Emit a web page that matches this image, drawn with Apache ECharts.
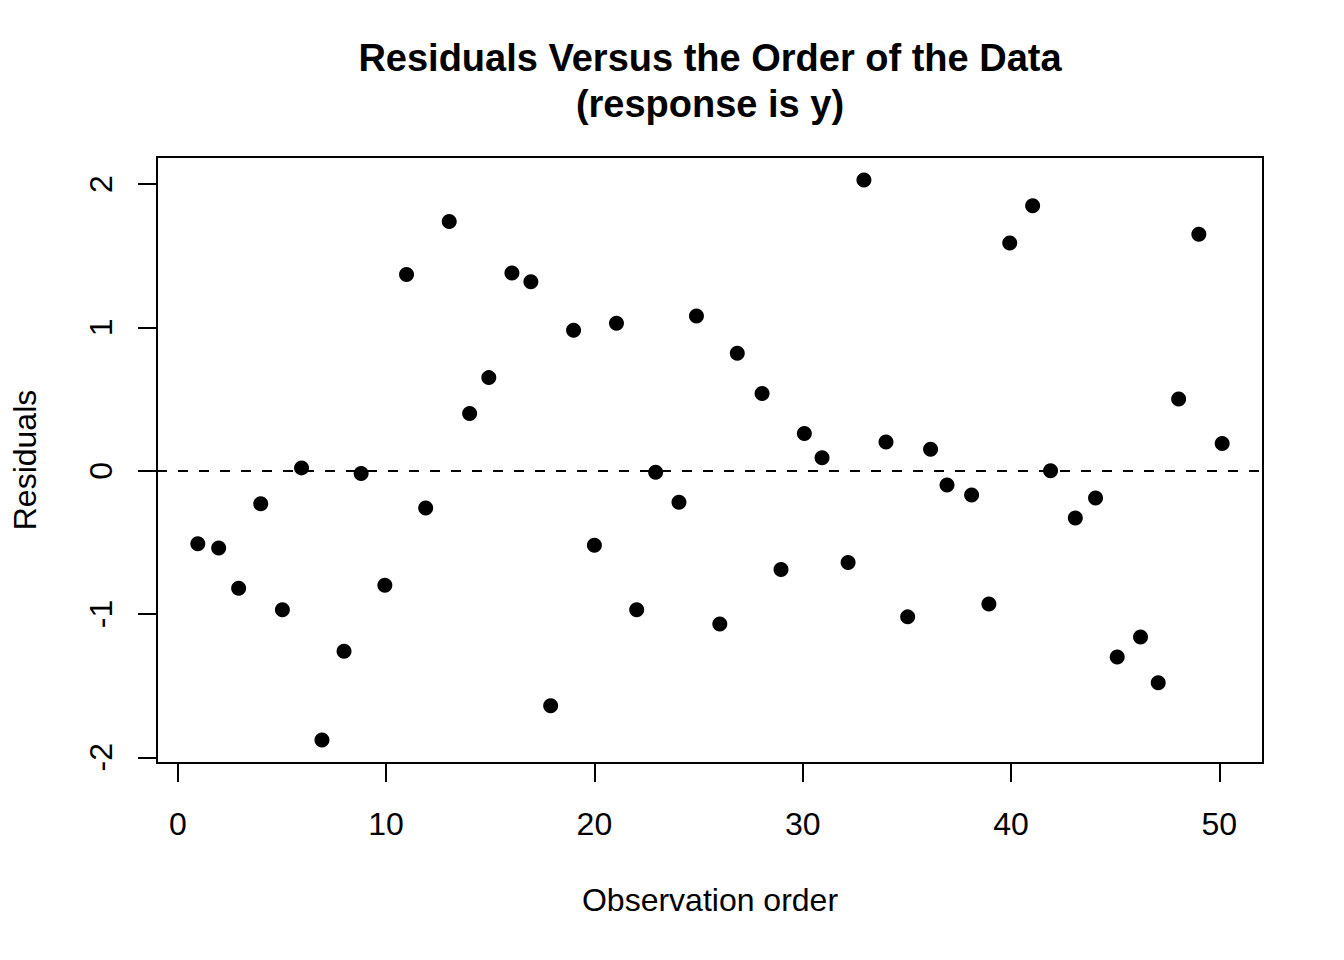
<!DOCTYPE html>
<html>
<head>
<meta charset="utf-8">
<script src="https://cdn.jsdelivr.net/npm/echarts@6/dist/echarts.min.js"></script>
<style>
html,body{margin:0;padding:0;background:#fff;}
#chart{width:1344px;height:960px;}
</style>
</head>
<body>
<div id="chart"></div>
<script>
var titleLines = ['Residuals Versus the Order of the Data', '(response is y)'];
var xAxisName = 'Observation order';
var yAxisName = 'Residuals';
var xTicks = [0, 10, 20, 30, 40, 50];
var yTicks = [-2, -1, 0, 1, 2];
var obsOrder = [0.96,1.96,2.92,3.98,5.02,5.94,6.92,7.98,8.8,9.94,10.98,11.9,13.03,14.01,14.93,16.04,16.95,17.9,19.0,20.0,21.06,22.03,22.94,24.06,24.9,26.02,26.86,28.05,28.96,30.08,30.93,32.18,32.94,34.0,35.04,36.14,36.93,38.11,38.94,39.94,41.04,41.9,43.09,44.06,45.1,46.22,47.07,48.05,49.02,50.14];
var residuals = [-0.51,-0.54,-0.82,-0.23,-0.97,0.02,-1.88,-1.26,-0.02,-0.80,1.37,-0.26,1.74,0.40,0.65,1.38,1.32,-1.64,0.98,-0.52,1.03,-0.97,-0.01,-0.22,1.08,-1.07,0.82,0.54,-0.69,0.26,0.09,-0.64,2.03,0.20,-1.02,0.15,-0.10,-0.17,-0.93,1.59,1.85,0.0,-0.33,-0.19,-1.30,-1.16,-1.48,0.50,1.65,0.19];
var referenceLevel = 0;

var FONT = '"Liberation Sans", Arial, Helvetica, sans-serif';
var points = obsOrder.map(function (x, i) { return [x, residuals[i]]; });

var chart = echarts.init(document.getElementById('chart'), null, {renderer: 'svg'});
chart.setOption({
  animation: false,
  backgroundColor: '#fff',
  graphic: [
    {type: 'text', x: 710, y: 58, silent: true,
     style: {text: titleLines[0], fill: '#000', font: 'bold 38px ' + FONT,
             textAlign: 'center', textVerticalAlign: 'middle', align: 'center', verticalAlign: 'middle'}},
    {type: 'text', x: 710, y: 104, silent: true,
     style: {text: titleLines[1], fill: '#000', font: 'bold 38px ' + FONT,
             textAlign: 'center', textVerticalAlign: 'middle', align: 'center', verticalAlign: 'middle'}}
  ],
  grid: {left: 157, right: 81, top: 157, bottom: 197, show: true, borderColor: '#000', borderWidth: 2, backgroundColor: 'transparent'},
  xAxis: {
    type: 'value', min: -1.0, max: 52.1, position: 'bottom',
    name: xAxisName, nameLocation: 'middle', nameGap: 121,
    nameTextStyle: {color: '#000', fontSize: 32, fontFamily: FONT},
    axisLine: {show: false, onZero: false},
    splitLine: {show: false},
    axisTick: {show: true, inside: false, length: 19, customValues: xTicks, lineStyle: {color: '#000', width: 2}},
    axisLabel: {show: true, customValues: xTicks, margin: 45, color: '#000', fontSize: 32, fontFamily: FONT}
  },
  yAxis: {
    type: 'value', min: -2.04, max: 2.19, position: 'left',
    name: yAxisName, nameLocation: 'middle', nameGap: 116,
    nameTextStyle: {color: '#000', fontSize: 32, fontFamily: FONT},
    axisLine: {show: false, onZero: false},
    splitLine: {show: false},
    axisTick: {show: true, inside: false, length: 19, customValues: yTicks, lineStyle: {color: '#000', width: 2}},
    axisLabel: {show: true, customValues: yTicks, rotate: 90, margin: 40, color: '#000', fontSize: 32, fontFamily: FONT}
  },
  series: [{
    type: 'scatter',
    data: points,
    symbol: 'circle',
    symbolSize: 15,
    itemStyle: {color: '#000', opacity: 1},
    silent: true,
    markLine: {
      silent: true,
      symbol: ['none', 'none'],
      label: {show: false},
      lineStyle: {color: '#000', width: 2, type: [10, 11], opacity: 1},
      data: [{yAxis: referenceLevel}]
    }
  }]
});
</script>
</body>
</html>
